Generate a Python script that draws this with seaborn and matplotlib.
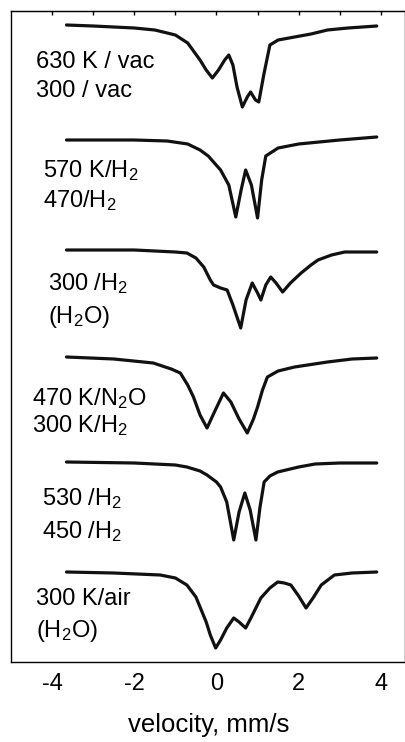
import numpy as np
import pandas as pd
import matplotlib
matplotlib.use("Agg")
import matplotlib.pyplot as plt
import seaborn as sns

# ─── Data: absorption depth (arb. units) vs. velocity (mm/s) ──

v_630vac = [-3.65, -3.0, -2.5, -2.0, -1.5, -1.0, -0.7, -0.4, -0.25, -0.1, 0.05, 0.2, 0.3,
            0.4, 0.5, 0.63, 0.75, 0.83, 0.95, 1.03, 1.15, 1.3, 1.5, 1.9, 2.3, 2.7, 3.2, 3.9]
d_630vac = [0, 1, 2, 3, 5, 10, 18, 35, 45, 53, 45, 35, 30,
            40, 62, 82, 72, 67, 75, 77, 50, 20, 15, 12, 9, 5, 3, 1]

v_570h2 = [-3.65, -2.0, -1.2, -0.7, -0.4, -0.2, 0.1, 0.3, 0.47, 0.6, 0.71, 0.85, 1.0,
           1.1, 1.2, 1.5, 2.0, 2.5, 3.0, 3.9]
d_570h2 = [0, 0, 1, 4, 10, 16, 30, 45, 77, 50, 30, 45, 78,
           40, 16, 8, 4, 2, 0, -3]

v_300h2 = [-3.65, -2.0, -1.0, -0.72, -0.5, -0.31, -0.15, -0.07, 0.1, 0.26, 0.4, 0.59, 0.72,
           0.87, 1.0, 1.08, 1.2, 1.32, 1.45, 1.61, 1.8, 2.06, 2.3, 2.47, 2.8, 3.12, 3.9]
d_300h2 = [0, 0, 2, 3, 8, 17, 30, 35, 38, 40, 55, 78, 50,
           33, 43, 50, 35, 27, 33, 42, 33, 23, 15, 10, 5, 2, 2]

v_470n2o = [-3.65, -2.5, -1.54, -1.1, -0.88, -0.7, -0.56, -0.4, -0.23, -0.05, 0.17, 0.35,
            0.55, 0.75, 0.9, 1.0, 1.12, 1.24, 1.5, 1.9, 2.7, 3.3, 3.9]
d_470n2o = [0, 2, 6, 12, 16, 28, 40, 58, 71, 55, 36, 45,
            62, 76, 62, 50, 33, 20, 14, 10, 5, 2, 1]

v_530h2 = [-3.65, -2.0, -1.0, -0.72, -0.4, -0.23, 0.0, 0.1, 0.25, 0.42, 0.55, 0.69, 0.82,
           0.96, 1.06, 1.16, 1.3, 1.49, 2.0, 2.4, 3.0, 3.9]
d_530h2 = [0, 1, 3, 5, 9, 13, 20, 25, 40, 78, 50, 31, 48,
           78, 45, 20, 14, 10, 5, 2, 1, 1]

v_300air = [-3.65, -2.5, -1.37, -1.0, -0.72, -0.5, -0.39, -0.25, -0.15, -0.02, 0.1, 0.25,
            0.42, 0.55, 0.71, 0.85, 1.08, 1.3, 1.49, 1.65, 1.81, 2.0, 2.18, 2.35, 2.55,
            2.87, 3.3, 3.9]
d_300air = [0, 1, 3, 6, 13, 25, 36, 50, 63, 76, 68, 56,
            46, 50, 56, 45, 26, 16, 10, 11, 13, 24, 36, 26, 13,
            3, 1, 0]

trace_names = ["630 K / vac", "570 K/H2", "300 /H2", "470 K/N2O", "530 /H2", "300 K/air"]
trace_v = [v_630vac, v_570h2, v_300h2, v_470n2o, v_530h2, v_300air]
trace_d = [d_630vac, d_570h2, d_300h2, d_470n2o, d_530h2, d_300air]
# vertical stacking offsets (baseline of each spectrum, top to bottom)
offsets = [25, 140, 250, 357, 462, 572]

labels = [
    ("630 K / vac", "300 / vac"),
    ("570 K/H$_2$", "470/H$_2$"),
    ("300 /H$_2$", "(H$_2$O)"),
    ("470 K/N$_2$O", "300 K/H$_2$"),
    ("530 /H$_2$", "450 /H$_2$"),
    ("300 K/air", "(H$_2$O)"),
]
label_x = [-4.4, -4.22, -4.1, -4.48, -4.24, -4.38]
label_y = [(68, 97), (177, 207), (290, 323), (405, 432), (505, 538), (605, 637)]

# ─── Build long table ───────────────────────────────────────────────────────────

rows = []
for name, vs, ds, off in zip(trace_names, trace_v, trace_d, offsets):
    for v, d in zip(vs, ds):
        rows.append({"trace": name, "velocity": v, "y": off + d})
df = pd.DataFrame(rows)

# ─── Plot ───────────────────────────────────────────────────────────────────────

sns.set_style("white")
plt.rcParams["font.family"] = ["Liberation Sans", "DejaVu Sans"]
plt.rcParams["mathtext.default"] = "regular"
plt.rcParams["axes.unicode_minus"] = False
plt.rcParams["text.color"] = "black"
plt.rcParams["axes.labelcolor"] = "black"
plt.rcParams["xtick.color"] = "black"

FS = 17

fig = plt.figure(figsize=(4.06, 7.42), dpi=100)
ax = fig.add_axes([11 / 406, 1 - 662 / 742, 394.5 / 406, 651 / 742])

sns.lineplot(data=df, x="velocity", y="y", hue="trace", palette=["#111111"] * 6,
             estimator=None, sort=False, legend=False, linewidth=2.3, ax=ax)

for (l1, l2), x0, (y1, y2) in zip(labels, label_x, label_y):
    ax.text(x0, y1, l1, fontsize=FS, va="baseline", ha="left", color="black")
    ax.text(x0, y2, l2, fontsize=FS, va="baseline", ha="left", color="black")

ax.set_xlim(-5, 4.6)
ax.set_ylim(662, 11)
ax.set_xticks([-4, -2, 0, 2, 4])
ax.set_xticks([-3, -1, 1, 3], minor=True)
ax.set_yticks([])
ax.tick_params(axis="x", which="major", direction="out", length=5, width=1,
               labelsize=FS, pad=3, colors="black")
ax.tick_params(axis="x", which="minor", direction="out", length=3, width=1)
ax.set_xlabel("velocity, mm/s", fontsize=18.5, labelpad=13, color="black")
ax.set_ylabel("")

top = ax.secondary_xaxis("top")
top.set_xticks([-4, -3, -2, -1, 0, 1, 2, 3, 4])
top.tick_params(direction="in", length=3, width=1, labeltop=False)
top.set_xticklabels([])

for s in ax.spines.values():
    s.set_linewidth(1.0)
    s.set_color("black")

fig.savefig("out.png", dpi=100)
